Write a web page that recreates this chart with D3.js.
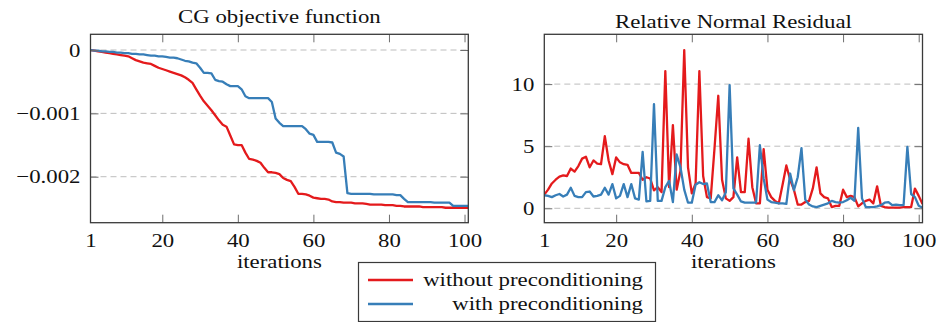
<!DOCTYPE html>
<html>
<head>
<meta charset="utf-8">
<script src="https://cdn.jsdelivr.net/npm/d3@7/dist/d3.min.js"></script>
<style>
  html, body { margin: 0; padding: 0; background: #fff; }
  svg { display: block; }
  text { font-family: "Liberation Serif", "DejaVu Serif", serif; fill: #111; }
</style>
</head>
<body>
<svg id="chart" width="938" height="322"></svg>
<script>
// ---------------- data ----------------
const iterations = d3.range(1, 102); // 1..101

const seriesNames = ["without preconditioning", "with preconditioning"];
const seriesColors = ["#e41a1c", "#377eb8"];

const xTicks = [1, 20, 40, 60, 80, 100];
const cgTicks = [0, -0.001, -0.002];
const resTicks = [0, 5, 10];

const titles = ["CG objective function", "Relative Normal Residual"];
const xLabel = "iterations";

// CG objective function, without preconditioning (iterations 1..101)
const cgWithout = [
  0, -0.00001, -0.00002, -0.00003, -0.00004, -0.00005, -0.00006, -0.00007, -0.00008, -0.00009,
  -0.0001, -0.00013, -0.00016, -0.00018, -0.0002, -0.00021, -0.00022, -0.00025, -0.00028, -0.0003,
  -0.00032, -0.00034, -0.00036, -0.00038, -0.0004, -0.00043, -0.00047, -0.00052, -0.00062, -0.00072,
  -0.00081, -0.00088, -0.00095, -0.00103, -0.00111, -0.00118, -0.00121, -0.00135, -0.00149, -0.0015,
  -0.0015, -0.00162, -0.00172, -0.00173, -0.00175, -0.00178, -0.00186, -0.00193, -0.00193, -0.00194,
  -0.00196, -0.00202, -0.00205, -0.00207, -0.00216, -0.00227, -0.00227, -0.00228, -0.0023, -0.00233,
  -0.00234, -0.00235, -0.00235, -0.00236, -0.00239, -0.0024, -0.0024, -0.00241, -0.00241, -0.00241,
  -0.00242, -0.00242, -0.00242, -0.00243, -0.00244, -0.00244, -0.00244, -0.00244, -0.00245, -0.00245,
  -0.00245, -0.00246, -0.00246, -0.00247, -0.00247, -0.00247, -0.00247, -0.00247, -0.00248, -0.00248,
  -0.00248, -0.00248, -0.00248, -0.00248, -0.00249, -0.00249, -0.00249, -0.00249, -0.00249, -0.00249,
  -0.00249
];

// CG objective function, with preconditioning
const cgWith = [
  0, -0.00001, -0.00001, -0.00002, -0.00002, -0.00003, -0.00003, -0.00004, -0.00004, -0.00005,
  -0.00005, -0.00006, -0.00006, -0.00007, -0.00007, -0.00008, -0.00009, -0.00009, -0.0001, -0.0001,
  -0.00011, -0.00012, -0.00012, -0.00013, -0.00015, -0.00017, -0.00018, -0.0002, -0.00021, -0.00028,
  -0.00036, -0.00036, -0.00037, -0.00047, -0.00049, -0.0005, -0.00054, -0.00057, -0.00057, -0.00057,
  -0.00062, -0.00073, -0.00076, -0.00076, -0.00076, -0.00076, -0.00076, -0.00076, -0.00082, -0.00108,
  -0.00115, -0.0012, -0.0012, -0.0012, -0.0012, -0.0012, -0.0012, -0.00125, -0.00132, -0.00134,
  -0.00145, -0.00145, -0.00145, -0.00145, -0.00146, -0.00162, -0.00164, -0.00168, -0.00226, -0.00227,
  -0.00227, -0.00227, -0.00227, -0.00227, -0.00227, -0.00228, -0.00228, -0.00228, -0.00228, -0.00228,
  -0.00228, -0.00229, -0.00229, -0.00235, -0.0024, -0.0024, -0.0024, -0.0024, -0.0024, -0.0024,
  -0.0024, -0.00241, -0.00241, -0.00241, -0.00241, -0.00241, -0.00246, -0.00246, -0.00246, -0.00246,
  -0.00246
];

// Relative normal residual, without preconditioning
const resWithout = [
  1.1, 1.5, 2.0, 2.3, 2.55, 2.65, 2.6, 3.2, 2.95, 3.4,
  4.0, 4.15, 3.3, 3.85, 3.6, 3.55, 5.8, 3.85, 2.75, 4.1,
  3.7, 3.55, 3.5, 2.85, 2.85, 2.85, 2.3, 2.5, 2.4, 1.45,
  1.7, 1.3, 11.05, 1.7, 6.7, 1.5, 3.0, 12.74, 3.3, 1.2,
  2.0, 11.05, 2.6, 0.9, 0.8, 4.8, 9.06, 2.3, 0.8, 0.6,
  0.9, 4.1, 1.3, 1.3, 5.6, 1.7, 0.4, 0.4, 4.76, 1.5,
  0.9, 0.6, 0.4, 1.9, 3.45, 2.3, 1.5, 0.3, 0.3, 0.5,
  0.6, 1.6, 3.3, 1.2, 0.9, 0.8, 0.1, 0.2, 0.2, 1.5,
  0.9, 1.0, 0.9, 0.15, 0.4, 0.6, 0.7, 0.4, 1.77, 0.2,
  0.1, 0.05, 0.05, 0.05, 0.05, 0.1, 0.1, 0.1, 1.59, 1.0,
  0.35
];

// Relative normal residual, with preconditioning
const resWith = [
  1.05, 1.0, 0.9, 1.05, 1.15, 0.95, 1.1, 1.65, 1.0, 0.9,
  0.9, 1.3, 1.35, 0.95, 1.0, 1.1, 1.65, 1.1, 1.95, 0.8,
  1.0, 1.95, 0.9, 1.95, 0.8, 0.7, 4.54, 0.55, 0.6, 8.39,
  0.6, 0.6, 1.7, 2.2, 0.5, 4.33, 3.3, 1.5, 0.45, 0.45,
  1.9, 2.1, 1.95, 2.0, 0.5, 0.5, 1.05, 0.65, 1.3, 9.92,
  1.6, 1.1, 0.55, 0.45, 0.45, 0.45, 0.45, 5.08, 2.4, 0.7,
  0.5, 0.45, 0.4, 0.4, 0.35, 2.8, 1.45, 2.5, 4.84, 0.7,
  0.3, 0.15, 0.1, 0.2, 0.3, 0.4, 0.6, 0.5, 0.45, 0.5,
  0.65, 0.85, 0.6, 6.48, 0.8, 0.1, 0.1, 0.1, 0.15, 0.25,
  0.45, 0.5, 0.25, 0.3, 0.25, 0.25, 4.95, 1.15, 0.9, 0.2,
  0.05
];

// ---------------- drawing ----------------
const svg = d3.select("#chart");
svg.append("rect").attr("width", 938).attr("height", 322).attr("fill", "#fff");

const FONT = 19.5;
const STRETCH = 1.17;
const TICK = 8;

function panel(opts) {
  const { left, right, top, bottom, xDomain, yDomain, yTicks, yFormat, series, title, titleY } = opts;
  const x = d3.scaleLinear().domain(xDomain).range([left, right]);
  const y = d3.scaleLinear().domain(yDomain).range([bottom, top]);
  const g = svg.append("g");

  // grid
  g.append("g").selectAll("line").data(yTicks).join("line")
    .attr("x1", left).attr("x2", right)
    .attr("y1", d => y(d)).attr("y2", d => y(d))
    .attr("stroke", "#bdbdbd").attr("stroke-width", 1)
    .attr("stroke-dasharray", "6,4");

  // series lines (clipped to box)
  const clipId = "clip" + Math.round(left);
  svg.append("clipPath").attr("id", clipId).append("rect")
    .attr("x", left).attr("y", top).attr("width", right - left).attr("height", bottom - top);
  const line = d3.line().x((d, i) => x(iterations[i])).y(d => y(d));
  series.forEach((s, k) => {
    g.append("path").datum(s)
      .attr("clip-path", `url(#${clipId})`)
      .attr("fill", "none").attr("stroke", seriesColors[k])
      .attr("stroke-width", 2.3).attr("stroke-linejoin", "round")
      .attr("d", line);
  });

  // axes with inward ticks
  const styleAxis = sel => {
    sel.select(".domain").remove();
    sel.selectAll(".tick line").attr("stroke", "#6e6e6e").attr("stroke-width", 1);
    sel.selectAll("text").style("font-family", '"Liberation Serif", serif')
      .style("font-size", FONT + "px").attr("fill", "#111");
  };
  g.append("g").attr("transform", `translate(0,${bottom})`)
    .call(d3.axisBottom(x).tickValues(xTicks).tickSize(-TICK).tickPadding(10).tickFormat(d3.format("d")))
    .call(styleAxis)
    .call(s => s.selectAll(".tick").filter(d => d === 1).select("line").remove());
  g.append("g").attr("transform", `translate(0,${top})`)
    .call(d3.axisTop(x).tickValues(xTicks.filter(d => d !== 1)).tickSize(-TICK).tickFormat(""))
    .call(styleAxis);
  g.append("g").attr("transform", `translate(${left},0)`)
    .call(d3.axisLeft(y).tickValues(yTicks).tickSize(-TICK).tickPadding(10).tickFormat(yFormat))
    .call(styleAxis);
  g.append("g").attr("transform", `translate(${right},0)`)
    .call(d3.axisRight(y).tickValues(yTicks).tickSize(-TICK).tickFormat(""))
    .call(styleAxis);

  // box
  g.append("rect").attr("x", left).attr("y", top)
    .attr("width", right - left).attr("height", bottom - top)
    .attr("fill", "none").attr("stroke", "#3a3a3a").attr("stroke-width", 1.3);

  // title
  g.append("text").attr("x", (left + right) / 2).attr("y", titleY)
    .attr("text-anchor", "middle").style("font-size", FONT + "px").text(title);
  // x label
  g.append("text").attr("x", (left + right) / 2).attr("y", 268)
    .attr("text-anchor", "middle").style("font-size", FONT + "px").text(xLabel);
}

panel({
  left: 90.5, right: 468.3, top: 34.3, bottom: 222.7,
  xDomain: [1, 101], yDomain: [-0.002726, 0.000248],
  yTicks: cgTicks,
  yFormat: d => d === 0 ? "0" : d3.format(".3f")(d),
  series: [cgWithout, cgWith],
  title: titles[0], titleY: 23.5
});

panel({
  left: 544.3, right: 922.5, top: 34.3, bottom: 222.7,
  xDomain: [1, 101], yDomain: [-1.16, 14.01],
  yTicks: resTicks,
  yFormat: d3.format("d"),
  series: [resWithout, resWith],
  title: titles[1], titleY: 28
});

// legend
const lg = svg.append("g");
lg.append("rect").attr("x", 358.5).attr("y", 262.5).attr("width", 297).attr("height", 59)
  .attr("fill", "#fff").attr("stroke", "#3a3a3a").attr("stroke-width", 1.2);
seriesNames.forEach((name, k) => {
  const yy = 280 + k * 24;
  lg.append("line").attr("x1", 368).attr("x2", 413).attr("y1", yy).attr("y2", yy)
    .attr("stroke", seriesColors[k]).attr("stroke-width", 2.3);
  lg.append("text").attr("x", 643).attr("y", yy + 6).attr("text-anchor", "end")
    .style("font-size", FONT + "px").text(name);
});

// widen the Times-like glyphs horizontally to mimic the wider original serif face
svg.selectAll("text").each(function () {
  const tx = +this.getAttribute("x") || 0;
  const ty = +this.getAttribute("y") || 0;
  this.setAttribute("transform", `translate(${tx},${ty}) scale(${STRETCH},1) translate(${-tx},${-ty})`);
});
</script>
</body>
</html>
